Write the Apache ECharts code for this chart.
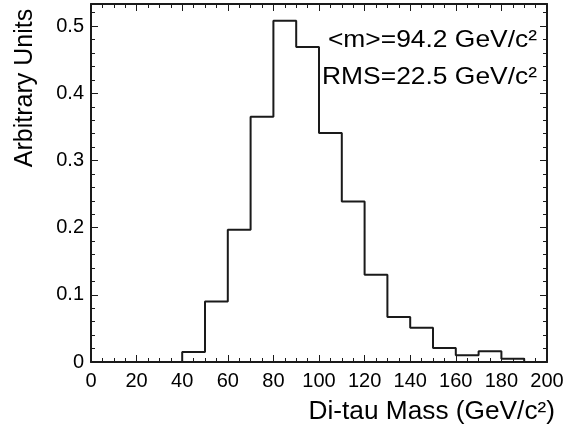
<!DOCTYPE html>
<html>
<head>
<meta charset="utf-8">
<script src="https://cdn.jsdelivr.net/npm/echarts@6/dist/echarts.min.js"></script>
<style>
html,body{margin:0;padding:0;background:#fff;}
#c{width:567px;height:434px;}
</style>
</head>
<body>
<div id="c"></div>
<script>
// Histogram data: bin lower edges (GeV/c^2) and normalized contents
var binEdges = [40, 50, 60, 70, 80, 90, 100, 110, 120, 130, 140, 150, 160, 170, 180, 190];
var binValues = [0.015, 0.090, 0.197, 0.365, 0.508, 0.469, 0.341, 0.239, 0.130, 0.067, 0.051, 0.021, 0.010, 0.016, 0.005];
var xTickLabels = [0, 20, 40, 60, 80, 100, 120, 140, 160, 180, 200];
var yTickLabels = [0, 0.1, 0.2, 0.3, 0.4, 0.5];
var annotations = ['<m>=94.2 GeV/c\u00b2', 'RMS=22.5 GeV/c\u00b2'];
var xTitle = 'Di-tau Mass (GeV/c\u00b2)';
var yTitle = 'Arbitrary Units';

var X_MIN = 0, X_MAX = 200, Y_MIN = 0, Y_MAX = 0.533;
var FONT = '"Liberation Sans", Arial, Helvetica, sans-serif';
var INK = '#1a1a1a';

// Step-line points tracing the histogram outline
var histPoints = [[binEdges[0], 0]];
for (var i = 0; i < binValues.length; i++) {
  histPoints.push([binEdges[i], binValues[i]]);
}
histPoints.push([binEdges[binEdges.length - 1], binValues[binValues.length - 1]]);
histPoints.push([binEdges[binEdges.length - 1], 0]);

function xAxisDef(pos, interval, tickLen, showLabel, showLine) {
  return {
    type: 'value', position: pos, min: X_MIN, max: X_MAX, interval: interval,
    axisLine: {show: showLine, onZero: false, lineStyle: {color: INK, width: 2}},
    axisTick: {show: true, inside: true, length: tickLen, lineStyle: {color: INK, width: 1}},
    axisLabel: {show: showLabel, margin: 9, color: '#000', fontFamily: FONT, fontSize: 20,
      customValues: showLabel ? xTickLabels : undefined},
    splitLine: {show: false}
  };
}
function yAxisDef(pos, interval, tickLen, showLabel, showLine) {
  return {
    type: 'value', position: pos, min: Y_MIN, max: Y_MAX, interval: interval,
    axisLine: {show: showLine, onZero: false, lineStyle: {color: INK, width: 2}},
    axisTick: {show: true, inside: true, length: tickLen, lineStyle: {color: INK, width: 1}},
    axisLabel: {show: showLabel, margin: 7, color: '#000', fontFamily: FONT, fontSize: 20,
      customValues: showLabel ? yTickLabels : undefined},
    splitLine: {show: false}
  };
}

var chart = echarts.init(document.getElementById('c'), null, {renderer: 'canvas'});
chart.setOption({
  backgroundColor: '#fff',
  animation: false,
  grid: {left: 91, top: 4, right: 20, bottom: 72, containLabel: false},
  xAxis: [
    xAxisDef('bottom', 20, 7, true, true),
    xAxisDef('bottom', 5, 4, false, false),
    xAxisDef('top', 20, 7, false, true),
    xAxisDef('top', 5, 4, false, false)
  ],
  yAxis: [
    yAxisDef('left', 0.1, 7, true, true),
    yAxisDef('left', 0.02, 4, false, false),
    yAxisDef('right', 0.1, 7, false, true),
    yAxisDef('right', 0.02, 4, false, false)
  ],
  series: [{
    type: 'line', xAxisIndex: 0, yAxisIndex: 0,
    step: 'end', data: histPoints, symbol: 'none',
    lineStyle: {color: INK, width: 2}, z: 1
  }],
  graphic: [
    {type: 'text', x: 537, y: 40, scaleX: 1.1, style: {text: annotations[0], font: '24px ' + FONT, fill: '#000', align: 'right', verticalAlign: 'middle'}},
    {type: 'text', x: 537, y: 77, scaleX: 1.1, style: {text: annotations[1], font: '24px ' + FONT, fill: '#000', align: 'right', verticalAlign: 'middle'}},
    {type: 'text', x: 555, y: 412, scaleX: 1.05, style: {text: xTitle, font: '25px ' + FONT, fill: '#000', align: 'right', verticalAlign: 'middle'}},
    {type: 'text', x: 25, y: 88, rotation: Math.PI / 2, style: {text: yTitle, font: '25px ' + FONT, fill: '#000', align: 'center', verticalAlign: 'middle'}}
  ]
});
</script>
</body>
</html>
